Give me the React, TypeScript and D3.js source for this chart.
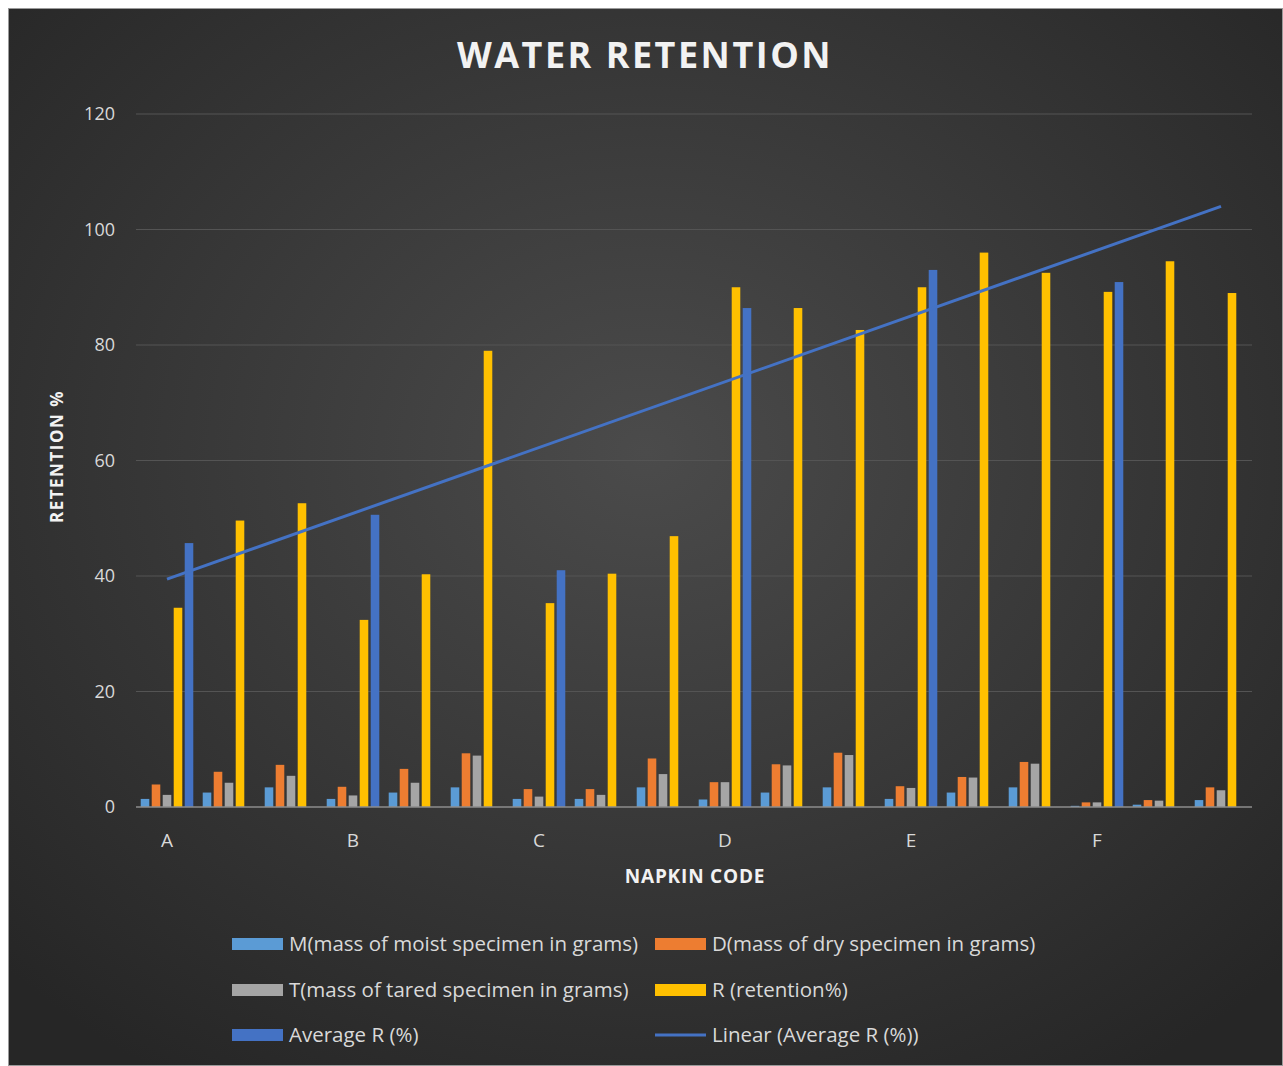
import { useEffect, useRef } from 'react'
import * as d3 from 'd3'

const categories = ['A', '', '', 'B', '', '', 'C', '', '', 'D', '', '', 'E', '', '', 'F', '', '']
const moist = [1.4, 2.5, 3.4, 1.4, 2.5, 3.4, 1.4, 1.4, 3.4, 1.3, 2.5, 3.4, 1.4, 2.5, 3.4, 0.2, 0.4, 1.2]
const dry = [3.9, 6.1, 7.3, 3.5, 6.6, 9.3, 3.1, 3.1, 8.4, 4.3, 7.4, 9.4, 3.6, 5.2, 7.8, 0.8, 1.2, 3.4]
const tared = [2.1, 4.2, 5.4, 2.0, 4.2, 8.9, 1.8, 2.1, 5.7, 4.3, 7.2, 9.0, 3.3, 5.1, 7.5, 0.8, 1.1, 2.9]
const retention = [34.5, 49.6, 52.6, 32.4, 40.3, 79.0, 35.3, 40.4, 46.9, 90.0, 86.4, 82.6, 90.0, 96.0, 92.5, 89.2, 94.5, 89.0]
const averageR = [45.7, null, null, 50.6, null, null, 41.0, null, null, 86.4, null, null, 93.0, null, null, 90.9, null, null]
const yTicks = [0, 20, 40, 60, 80, 100, 120]

const seriesNames = [
  'M(mass of moist specimen in grams)',
  'D(mass of dry specimen in grams)',
  'T(mass of tared specimen in grams)',
  'R (retention%)',
  'Average R (%)',
]
const seriesColors = ['#5b9bd5', '#ed7d31', '#a5a5a5', '#ffc000', '#4472c4']
const trendName = 'Linear (Average R (%))'

const FONT = "'Open Sans', 'Noto Sans', sans-serif"

export default function App() {
  const svgRef = useRef<SVGSVGElement>(null)

  useEffect(() => {
    if (!svgRef.current) return
    const width = 1275
    const height = 1058
    const svg = d3.select(svgRef.current)
    svg.selectAll('*').remove()
    svg.attr('width', width).attr('height', height)

    // background
    const defs = svg.append('defs')
    const bg = defs.append('radialGradient').attr('id', 'bg-grad').attr('cx', '50%').attr('cy', '42%').attr('r', '70%')
    bg.append('stop').attr('offset', '0%').attr('stop-color', '#4b4b4b')
    bg.append('stop').attr('offset', '100%').attr('stop-color', '#262626')
    svg.append('rect').attr('width', width).attr('height', height).attr('fill', 'url(#bg-grad)')
      .attr('stroke', '#9a9a9a').attr('stroke-width', 2)

    // plot area (chart coords relative to svg at 8,8)
    const left = 128, right = 1244, top = 106, bottom = 799
    const x0 = d3.scaleBand<number>().domain(categories.map((_, i) => i)).range([left, right])
    const innerW = 55
    const x1 = d3.scaleBand<number>().domain(d3.range(5)).range([0, innerW]).paddingInner(0.22).paddingOuter(0.11)
    const y = d3.scaleLinear().domain([0, 120]).range([bottom, top])

    const g = svg.append('g')

    // grid
    g.append('g').selectAll('line').data(yTicks.filter(t => t > 0)).enter().append('line')
      .attr('x1', left).attr('x2', right).attr('y1', d => y(d)).attr('y2', d => y(d))
      .attr('stroke', '#545454').attr('stroke-width', 1)

    // y tick labels
    g.append('g').selectAll('text').data(yTicks).enter().append('text')
      .attr('x', 107).attr('y', d => y(d)).attr('dy', '0.35em').attr('text-anchor', 'end')
      .attr('fill', '#d9d9d9').attr('font-size', 18).attr('font-family', FONT).text(d => d)

    // bars
    const allSeries: (number | null)[][] = [moist, dry, tared, retention, averageR]
    const offset = (x0.bandwidth() - innerW) / 2
    allSeries.forEach((vals, si) => {
      g.append('g').selectAll('rect')
        .data(vals.map((v, i) => ({ v, i })).filter(d => d.v != null))
        .enter().append('rect')
        .attr('x', d => (x0(d.i) ?? 0) + offset + (x1(si) ?? 0))
        .attr('width', x1.bandwidth())
        .attr('y', d => y(d.v as number))
        .attr('height', d => bottom - y(d.v as number))
        .attr('fill', seriesColors[si])
    })

    // axis baseline
    g.append('line').attr('x1', left).attr('x2', right).attr('y1', bottom).attr('y2', bottom)
      .attr('stroke', '#8c8c8c').attr('stroke-width', 1.5)

    // category labels
    g.append('g').selectAll('text').data(categories.map((c, i) => ({ c, i })).filter(d => d.c)).enter().append('text')
      .attr('x', d => (x0(d.i) ?? 0) + x0.bandwidth() / 2).attr('y', 832).attr('dy', '0.35em')
      .attr('text-anchor', 'middle').attr('fill', '#d9d9d9').attr('font-size', 19).attr('font-family', FONT)
      .text(d => d.c)

    // linear trendline of Average R (x = 1..n)
    const pts = averageR.map((v, i) => ({ x: i + 1, v })).filter(d => d.v != null) as { x: number; v: number }[]
    const mx = d3.mean(pts, d => d.x) as number
    const my = d3.mean(pts, d => d.v) as number
    const slope = d3.sum(pts, d => (d.x - mx) * (d.v - my)) / d3.sum(pts, d => (d.x - mx) ** 2)
    const icpt = my - slope * mx
    const trend = [1, categories.length].map(xv => ({ i: xv - 1, v: icpt + slope * xv }))
    g.append('path').datum(trend)
      .attr('fill', 'none').attr('stroke', '#4472c4').attr('stroke-width', 3)
      .attr('d', d3.line<{ i: number; v: number }>().x(d => (x0(d.i) ?? 0) + x0.bandwidth() / 2).y(d => y(d.v)))

    // title
    svg.append('text').attr('x', 637).attr('y', 47).attr('dy', '0.35em').attr('text-anchor', 'middle')
      .attr('fill', '#f2f2f2').attr('font-size', 36).attr('font-weight', 'bold').attr('letter-spacing', 2.5)
      .attr('font-family', FONT).text('WATER RETENTION')

    // axis titles
    svg.append('text').attr('transform', `translate(49,${(top + bottom) / 2 - 4}) rotate(-90)`).attr('dy', '0.35em')
      .attr('text-anchor', 'middle').attr('fill', '#f2f2f2').attr('font-size', 17).attr('font-weight', 'bold')
      .attr('letter-spacing', 1.5).attr('font-family', FONT).text('RETENTION %')
    svg.append('text').attr('x', 687).attr('y', 868).attr('dy', '0.35em').attr('text-anchor', 'middle')
      .attr('fill', '#f2f2f2').attr('font-size', 19).attr('font-weight', 'bold').attr('letter-spacing', 0.8)
      .attr('font-family', FONT).text('NAPKIN CODE')

    // legend
    const legendItems = [
      { name: seriesNames[0], color: seriesColors[0], kind: 'bar' },
      { name: seriesNames[1], color: seriesColors[1], kind: 'bar' },
      { name: seriesNames[2], color: seriesColors[2], kind: 'bar' },
      { name: seriesNames[3], color: seriesColors[3], kind: 'bar' },
      { name: seriesNames[4], color: seriesColors[4], kind: 'bar' },
      { name: trendName, color: '#4472c4', kind: 'line' },
    ]
    const colX = [224, 647]
    const rowY = [936, 982, 1027]
    const lg = svg.append('g').attr('font-family', FONT)
    legendItems.forEach((it, i) => {
      const lx = colX[i % 2], ly = rowY[Math.floor(i / 2)]
      if (it.kind === 'bar') {
        lg.append('rect').attr('x', lx).attr('y', ly - 6).attr('width', 51).attr('height', 12).attr('fill', it.color)
      } else {
        lg.append('line').attr('x1', lx).attr('x2', lx + 51).attr('y1', ly).attr('y2', ly)
          .attr('stroke', it.color).attr('stroke-width', 3)
      }
      lg.append('text').attr('x', lx + 57).attr('y', ly).attr('dy', '0.35em')
        .attr('fill', '#d9d9d9').attr('font-size', 20.5).text(it.name)
    })
  }, [])

  return <svg ref={svgRef} style={{ position: 'absolute', left: 8, top: 8, display: 'block' }} />
}
